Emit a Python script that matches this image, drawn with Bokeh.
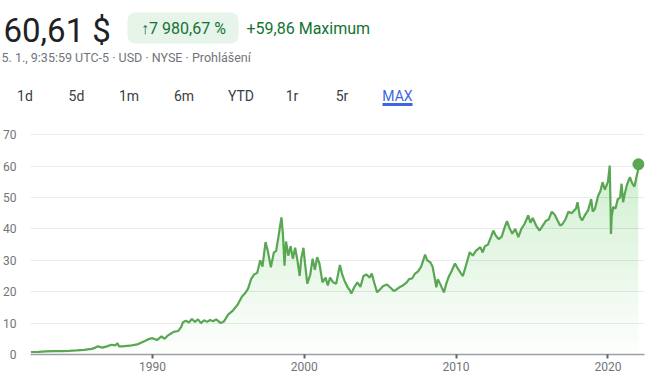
import numpy as np
from bokeh.plotting import figure
from bokeh.models import Range1d, FixedTicker
from bokeh.core.properties import value
from bokeh.embed import file_html
from bokeh.resources import INLINE

# ---- data (decimal year, price in USD) ----
years = [
    1982.0, 1982.5, 1983.0, 1983.5, 1984.0, 1984.5, 1985.0, 1985.5, 1986.0, 1986.2,
    1986.4, 1986.7, 1987.0, 1987.3, 1987.55, 1987.7, 1987.8, 1988.0, 1988.5, 1989.0,
    1989.5, 1989.8, 1990.0, 1990.3, 1990.6, 1990.8, 1991.0, 1991.2, 1991.4, 1991.7,
    1991.9, 1992.0, 1992.2, 1992.4, 1992.6, 1992.8, 1993.0, 1993.2, 1993.4, 1993.6,
    1993.8, 1994.0, 1994.2, 1994.5, 1994.7, 1995.0, 1995.3, 1995.6, 1995.9, 1996.1,
    1996.3, 1996.5, 1996.7, 1996.9, 1997.1, 1997.25, 1997.45, 1997.6, 1997.8, 1998.0,
    1998.15, 1998.3, 1998.5, 1998.6, 1998.7, 1998.8, 1998.95, 1999.1, 1999.25, 1999.4,
    1999.55, 1999.7, 1999.8, 1999.95, 2000.05, 2000.2, 2000.4, 2000.55, 2000.7, 2000.85,
    2001.0, 2001.2, 2001.4, 2001.55, 2001.7, 2001.9, 2002.1, 2002.35, 2002.5, 2002.65,
    2002.85, 2003.0, 2003.1, 2003.3, 2003.5, 2003.7, 2003.9, 2004.1, 2004.3, 2004.45,
    2004.6, 2004.8, 2005.0, 2005.2, 2005.45, 2005.7, 2005.9, 2006.1, 2006.3, 2006.5,
    2006.75, 2006.9, 2007.1, 2007.3, 2007.5, 2007.7, 2007.96, 2008.1, 2008.3, 2008.45,
    2008.55, 2008.7, 2008.8, 2008.95, 2009.2, 2009.35, 2009.5, 2009.7, 2009.93, 2010.1,
    2010.3, 2010.45, 2010.6, 2010.9, 2011.1, 2011.3, 2011.6, 2011.75, 2011.9, 2012.1,
    2012.3, 2012.45, 2012.6, 2012.8, 2013.0, 2013.2, 2013.35, 2013.5, 2013.7, 2013.9,
    2014.1, 2014.3, 2014.5, 2014.75, 2014.9, 2015.05, 2015.3, 2015.5, 2015.7, 2015.9,
    2016.1, 2016.3, 2016.5, 2016.65, 2016.85, 2017.0, 2017.2, 2017.4, 2017.6, 2017.8,
    2017.9, 2018.0, 2018.15, 2018.3, 2018.5, 2018.7, 2018.9, 2019.0, 2019.15, 2019.35,
    2019.5, 2019.65, 2019.8, 2020.0, 2020.12, 2020.18, 2020.2, 2020.25, 2020.35, 2020.5,
    2020.65, 2020.8, 2020.9, 2021.0, 2021.1, 2021.25, 2021.45, 2021.6, 2021.75, 2021.9,
    2021.98, 2022.01,
]
prices = [
    0.8, 0.85, 1.0, 1.05, 1.1, 1.15, 1.3, 1.5, 1.8, 2.1,
    2.6, 2.2, 2.6, 3.1, 2.9, 3.6, 2.6, 2.6, 2.8, 3.2,
    4.3, 5.0, 5.2, 4.6, 5.8, 5.0, 6.0, 6.6, 7.2, 7.5,
    8.8, 10.2, 10.8, 10.2, 11.3, 10.4, 11.2, 10.0, 10.9, 10.4,
    11.0, 10.6, 11.2, 10.0, 10.5, 12.8, 14.0, 15.8, 18.5, 19.5,
    21.0, 24.0, 25.5, 26.0, 30.0, 28.0, 35.8, 33.0, 27.8, 32.5,
    33.0, 37.5, 43.7, 38.0, 28.3, 36.0, 31.5, 34.5, 30.5, 34.0,
    30.0, 25.0, 30.5, 34.0, 29.0, 22.6, 25.5, 30.5, 27.0, 31.0,
    29.0, 23.0, 24.5, 22.0, 24.5, 23.0, 22.5, 28.5, 25.5, 23.5,
    21.5, 20.5, 19.4, 21.5, 23.0, 21.5, 25.0, 25.5, 24.5, 25.8,
    23.0, 19.8, 20.8, 21.8, 22.3, 21.2, 20.2, 20.8, 21.5, 22.0,
    23.0, 24.0, 24.2, 25.8, 26.5, 28.0, 31.8, 30.0, 29.4, 28.0,
    25.5, 21.4, 24.0, 22.5, 19.8, 22.5, 24.6, 26.5, 29.0, 27.5,
    26.0, 25.0, 27.5, 32.6, 31.5, 33.0, 34.2, 32.5, 34.5, 35.0,
    37.5, 39.5, 38.0, 36.8, 37.5, 40.5, 42.5, 40.5, 38.5, 40.0,
    37.4, 40.0, 41.5, 44.3, 42.0, 43.5, 40.8, 39.5, 41.0, 42.5,
    43.0, 45.5, 44.5, 43.0, 41.1, 41.5, 43.0, 45.5, 45.0, 46.0,
    46.5, 48.5, 44.0, 42.7, 44.5, 46.0, 49.5, 45.5, 46.5, 50.5,
    52.0, 54.9, 52.5, 55.0, 60.2, 45.0, 38.4, 44.0, 47.0, 46.5,
    49.5, 50.0, 54.4, 48.5, 51.0, 54.0, 56.5, 54.5, 53.5, 57.0,
    58.5, 60.61,
]
y_ticks = [0, 10, 20, 30, 40, 50, 60, 70]
x_ticks = [1990, 2000, 2010, 2020]

price_text = "60,61 $"
change_pct_text = "\u21917 980,67 %"
change_abs_text = "+59,86 Maximum"
info_text = "5. 1., 9:35:59 UTC-5 \u00b7 USD \u00b7 NYSE \u00b7 Prohlášení"
tabs = ["1d", "5d", "1m", "6m", "YTD", "1r", "5r", "MAX"]
selected_tab = "MAX"

FONT = "Roboto"
GREEN = "#59a653"
TEXT_GREEN = "#137333"
BLUE = "#3f66e0"

W, HEAD_H, CHART_H = 650, 112, 276

# ---------------- header (pixel-like data space, y grows downward) --------
h = figure(width=W, height=HEAD_H, output_backend="svg", toolbar_location=None,
           x_range=Range1d(0, W), y_range=Range1d(HEAD_H, 0),
           min_border=0, x_axis_type=None, y_axis_type=None)
h.outline_line_color = None
h.grid.visible = False


def htext(xs, ys, texts, size, color, align="left"):
    h.text(x=xs, y=ys, text=texts, text_font=value(FONT), text_font_size=size,
           text_color=color, text_align=align, text_baseline="middle")


htext([3], [30], [price_text], "33px", "#202124")
h.quad(left=[127], right=[238], top=[12], bottom=[43], fill_color="#e6f4ea",
       line_color=None, border_radius=8)
htext([183], [28], [change_pct_text], "16px", TEXT_GREEN, align="center")
htext([246], [28], [change_abs_text], "16px", TEXT_GREEN)
htext([1], [57], [info_text], "12.5px", "#70757a")

tab_x = [24.5, 76, 128.5, 183.5, 240.5, 291.5, 341.5, 397]
tab_col = [BLUE if t == selected_tab else "#3c4043" for t in tabs]
htext(tab_x, [95] * len(tabs), tabs, "14px", tab_col, align="center")
sel = tabs.index(selected_tab)
h.quad(left=[tab_x[sel] - 15], right=[tab_x[sel] + 15], top=[102.5], bottom=[105.5],
       fill_color=BLUE, line_color=None)

# ---------------- chart ---------------------------------------------------
x = np.array(years)
y = np.array(prices)

p = figure(width=W, height=CHART_H, output_backend="svg", toolbar_location=None,
           x_range=Range1d(1981.97, 2022.41), y_range=Range1d(0, 72),
           min_border_left=30, min_border_right=6, min_border_top=16,
           min_border_bottom=34)
p.outline_line_color = None

levels = np.arange(0, 62, 4)
for lv in levels:
    p.varea(x=x, y1=np.full_like(y, lv), y2=np.maximum(y, lv),
            fill_color="#34a853", fill_alpha=0.015)

p.line(x, y, line_color=GREEN, line_width=2.2)
p.scatter([x[-1]], [y[-1]], size=11, color=GREEN)

p.xaxis.ticker = FixedTicker(ticks=x_ticks)
p.yaxis.ticker = FixedTicker(ticks=y_ticks)
p.xaxis.axis_line_color = "#9aa0a6"
p.xaxis.axis_line_width = 1.5
p.xaxis.major_tick_line_color = "#5f6368"
p.xaxis.major_tick_line_width = 2
p.xaxis.major_tick_in = 0
p.xaxis.major_tick_out = 4
p.xaxis.minor_tick_line_color = None
p.xaxis.major_label_standoff = 3
p.yaxis.axis_line_color = None
p.yaxis.major_tick_line_color = None
p.yaxis.minor_tick_line_color = None
p.yaxis.major_label_standoff = 8
for ax in (p.xaxis, p.yaxis):
    ax.major_label_text_font = FONT
    ax.major_label_text_font_size = "12px"
    ax.major_label_text_color = "#70757a"
p.xgrid.grid_line_color = None
p.ygrid.grid_line_color = "#ebebeb"
p.ygrid.grid_line_width = 1

open("out.html", "w").write(file_html([h, p], INLINE))
